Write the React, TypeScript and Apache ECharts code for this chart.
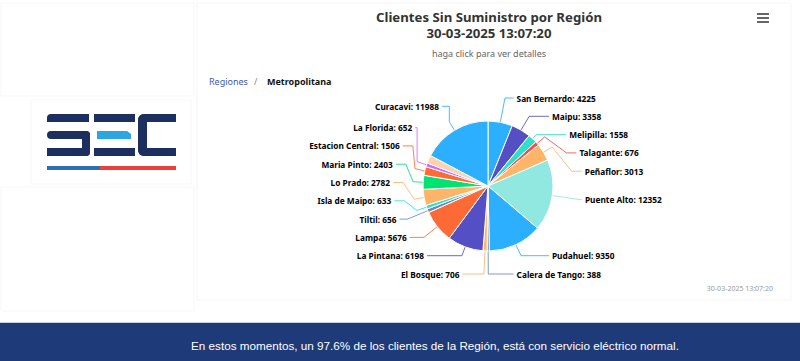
import React, { useEffect, useRef } from "react";
import * as echarts from "echarts";

const comunas = [
  "San Bernardo", "Maipu", "Melipilla", "Talagante", "Peñaflor", "Puente Alto",
  "Pudahuel", "Calera de Tango", "El Bosque", "La Pintana", "Lampa", "Tiltil",
  "Isla de Maipo", "Lo Prado", "Maria Pinto", "Estacion Central", "La Florida",
  "", "Curacavi",
];
const clientes = [
  4225, 3358, 1558, 676, 3013, 12352, 9350, 388, 706, 6198, 5676, 656, 633,
  2782, 2403, 1506, 652, 1400, 11988,
];
const colores = [
  "#2caffe", "#544fc5", "#2ee0ca", "#fa4b42", "#feb56a", "#91e8e1",
  "#2caffe", "#6b8abc", "#feb56a", "#544fc5", "#fe6a35", "#6b8abc",
  "#2ee0ca", "#feb56a", "#00e272", "#fe6a35", "#d568fb", "#fdd2ad", "#2caffe",
];
const titulo = "Clientes Sin Suministro por Región";
const fecha = "30-03-2025 13:07:20";
const subtitulo = "haga click para ver detalles";
const migaRaiz = "Regiones";
const migaActual = "Metropolitana";
const mensaje =
  "En estos momentos, un 97.6% de los clientes de la Región, está con servicio eléctrico normal.";

const NAVY = "#1d2f5f";
const CX = 488;
const CY = 186;
const R = 65;

function rect(x: number, y: number, w: number, h: number, fill: string, r: any = 0) {
  return { type: "rect", shape: { x, y, width: w, height: h, r }, style: { fill }, silent: true };
}

// Highcharts-like label placement: labels on an ellipse around the pie,
// spread vertically on each side so that they do not overlap.
function computeLabelLayout() {
  const total = clientes.reduce((a, b) => a + b, 0);
  let acc = 0;
  const info = clientes.map((v, i) => {
    const mid = ((acc + v / 2) / total) * Math.PI * 2;
    acc += v;
    const right = Math.sin(mid) >= 0;
    return { i, mid, right, y: CY - 93 * Math.cos(mid), show: comunas[i] !== "" };
  });
  const GAP = 18.3;
  const TOP = CY - 88;
  const BOT = CY + 88;
  [true, false].forEach((side) => {
    const list = info.filter((d) => d.show && d.right === side).sort((a, b) => a.y - b.y);
    let prev = -Infinity;
    list.forEach((d) => {
      d.y = Math.max(d.y, TOP, prev + GAP);
      prev = d.y;
    });
    let next = Infinity;
    for (let k = list.length - 1; k >= 0; k--) {
      const d = list[k];
      d.y = Math.min(d.y, BOT, next - GAP);
      next = d.y;
    }
  });
  return info.map((d) => {
    const dy = d.y - CY;
    const dx = 98 * Math.sqrt(Math.max(0, 1 - (dy / 92) * (dy / 92)));
    const sgn = d.right ? 1 : -1;
    const textX = CX + sgn * dx;
    const anchorX = textX - sgn * 3;
    const s = Math.sin(d.mid);
    const c = Math.cos(d.mid);
    const edge = [CX + s * R, CY - c * R];
    let pts: number[][];
    const rhoY = Math.abs(c) > 0.01 ? (CY - d.y) / c : Infinity;
    const bx = CX + s * rhoY;
    if (rhoY >= R + 4 && rhoY <= R + 30 && sgn * (anchorX - bx) >= 0) {
      pts = [edge, [bx, d.y], [anchorX, d.y]];
    } else {
      const rb = R + 10;
      const brk = [CX + s * rb, CY - c * rb];
      const crookX = anchorX - sgn * Math.min(10, Math.max(0, sgn * (anchorX - brk[0])));
      pts = [edge, brk, [crookX, d.y], [anchorX, d.y]];
    }
    return { x: textX, y: d.y, align: d.right ? "left" : "right", pts };
  });
}

export default function App() {
  const ref = useRef<HTMLDivElement>(null);
  useEffect(() => {
    if (!ref.current) return;
    const chart = echarts.init(ref.current, null, { renderer: "svg" });
    const layout = computeLabelLayout();
    const data = comunas.map((n, i) => ({
      name: n,
      value: clientes[i],
      itemStyle: { color: colores[i] },
      label: { show: n !== "" },
      labelLine: { show: n !== "" },
    }));
    const txt = (x: number, y: number, text: string, fill: string, font: string, align = "left") => ({
      type: "text",
      x,
      y,
      silent: true,
      style: { text, fill, font, align, verticalAlign: "middle" },
    });
    chart.setOption({
      animation: false,
      backgroundColor: "#ffffff",
      graphic: [
        // cards
        { type: "rect", shape: { x: 1, y: 3, width: 193, height: 93 }, style: { fill: "#fff", stroke: "#f7f7f7" }, silent: true },
        { type: "rect", shape: { x: 31, y: 100, width: 160, height: 84 }, style: { fill: "#fff", stroke: "#f7f7f7" }, silent: true },
        { type: "rect", shape: { x: 1, y: 187, width: 193, height: 124 }, style: { fill: "#fff", stroke: "#f7f7f7" }, silent: true },
        { type: "rect", shape: { x: 197, y: 3, width: 594, height: 297 }, style: { fill: "#fff", stroke: "#f5f5f5" }, silent: true },
        // logo S
        rect(47, 114, 42, 8, NAVY, [4, 0, 0, 0]),
        rect(47, 131, 43, 8, NAVY, [4, 4, 0, 4]),
        rect(82, 131, 8, 25, NAVY, [0, 4, 4, 0]),
        rect(47, 148, 43, 8, NAVY, [0, 0, 4, 0]),
        // logo E
        rect(94, 114, 41, 8, NAVY),
        { type: "polygon", shape: { points: [[97, 131], [127, 131], [131, 134], [131, 139], [97, 139]] }, style: { fill: "#2aa6e3" }, silent: true },
        rect(94, 148, 41, 8, NAVY),
        // logo C
        rect(138, 114, 38, 8, NAVY, [6, 0, 0, 0]),
        rect(138, 114, 9, 42, NAVY, [6, 0, 0, 6]),
        rect(138, 148, 38, 8, NAVY, [0, 0, 0, 6]),
        // underline
        rect(47, 166, 53, 4, "#2f6db5"),
        rect(100, 166, 76, 4, "#e8413c"),
        // hamburger
        rect(757, 13, 12, 2, "#666"),
        rect(757, 17, 12, 2, "#666"),
        rect(757, 21, 12, 2, "#666"),
        // titles
        txt(489, 16.5, titulo, "#333", "bold 13.2px 'Noto Sans'", "center"),
        txt(489, 33, fecha, "#333", "bold 13.2px 'Noto Sans'", "center"),
        txt(489, 53, subtitulo, "#666", "9px 'Noto Sans'", "center"),
        // breadcrumb
        txt(209, 81, migaRaiz, "#3b5bab", "9px 'Noto Sans'"),
        txt(254, 81, "/", "#888", "9px 'Noto Sans'"),
        txt(267, 81, migaActual, "#111", "bold 9px 'Noto Sans'"),
        // timestamp
        txt(773, 288, fecha, "#999", "7px 'Noto Sans'", "right"),
        // bottom band
        rect(0, 322, 800, 1, "#c9d3e8"),
        rect(0, 323, 800, 38, "#1f3a78"),
        txt(435, 345, mensaje, "#fff", "11.7px 'Liberation Sans'", "center"),
      ],
      series: [
        {
          type: "pie",
          center: [CX, CY],
          radius: R,
          startAngle: 90,
          clockwise: true,
          avoidLabelOverlap: false,
          itemStyle: { borderColor: "#fff", borderWidth: 1 },
          label: {
            formatter: "{b}: {c}",
            color: "#000",
            fontWeight: "bold",
            fontSize: 8.3,
            fontFamily: "'Noto Sans'",
            textBorderColor: "#fff",
            textBorderWidth: 2,
          },
          labelLine: { length: 14, length2: 18, smooth: false, lineStyle: { width: 1, opacity: 0.85 } },
          labelLayout: (p: any) => {
            const l = layout[p.dataIndex];
            return {
              x: l.x,
              y: l.y,
              align: l.align,
              verticalAlign: "middle",
              labelLinePoints: l.pts,
            };
          },
          emphasis: { disabled: true },
          data,
        },
      ],
    });
    return () => chart.dispose();
  }, []);
  return (
    <div
      ref={ref}
      style={{ position: "fixed", left: 0, top: 0, width: 800, height: 361 }}
    />
  );
}
